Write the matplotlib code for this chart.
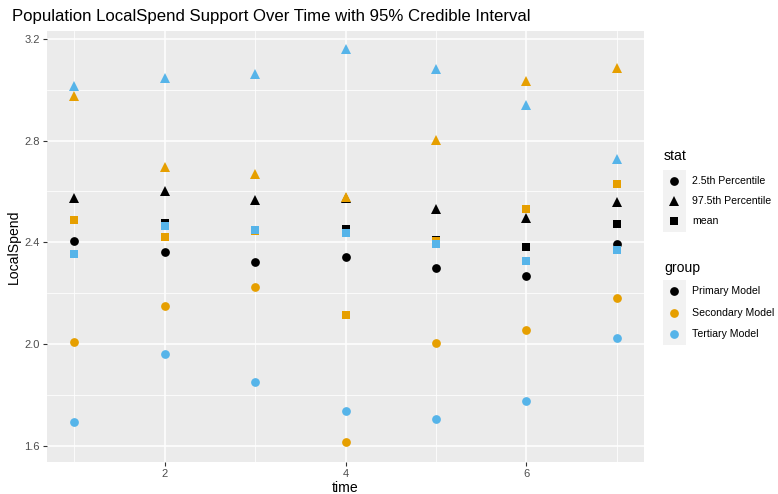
import numpy as np
import matplotlib
matplotlib.use("Agg")
import matplotlib.pyplot as plt
from matplotlib.lines import Line2D
from matplotlib.patches import Rectangle

plt.rcParams['font.family'] = ['Liberation Sans', 'DejaVu Sans']

time = [1, 2, 3, 4, 5, 6, 7]
groups = ['Primary Model', 'Secondary Model', 'Tertiary Model']
stats = ['2.5th Percentile', '97.5th Percentile', 'mean']

# values per group: lower 2.5%, upper 97.5%, mean
primary_lo = [2.406, 2.362, 2.324, 2.341, 2.298, 2.269, 2.393]
primary_hi = [2.573, 2.603, 2.567, 2.575, 2.531, 2.497, 2.559]
primary_mean = [2.486, 2.478, 2.449, 2.451, 2.411, 2.381, 2.472]

secondary_lo = [2.010, 2.151, 2.225, 1.616, 2.003, 2.054, 2.183]
secondary_hi = [2.976, 2.697, 2.669, 2.580, 2.803, 3.036, 3.085]
secondary_mean = [2.487, 2.420, 2.446, 2.113, 2.405, 2.530, 2.629]

tertiary_lo = [1.695, 1.961, 1.852, 1.737, 1.707, 1.776, 2.023]
tertiary_hi = [3.016, 3.048, 3.061, 3.159, 3.081, 2.940, 2.727]
tertiary_mean = [2.353, 2.463, 2.450, 2.436, 2.393, 2.326, 2.370]

group_colors = ['#000000', '#E69F00', '#56B4E9']
stat_markers = ['o', '^', 's']
stat_sizes = [6.3, 7.2, 6.0]

data = [
    [primary_lo, primary_hi, primary_mean],
    [secondary_lo, secondary_hi, secondary_mean],
    [tertiary_lo, tertiary_hi, tertiary_mean],
]

fig = plt.figure(figsize=(7.78, 4.94), dpi=100)
ax = fig.add_axes([47 / 778, 32.3 / 494, 597 / 778, 430.7 / 494])
ax.set_facecolor('#EBEBEB')

z = 3
for g, col in enumerate(group_colors):
    for s in range(3):
        ax.plot(time, data[g][s], linestyle='none', marker=stat_markers[s],
                markersize=stat_sizes[s], color=col, markeredgewidth=0, zorder=z)
        z += 0.01

ax.set_xlim(0.7, 7.3)
ax.set_ylim(1.5375, 3.231)
ax.set_xticks([2, 4, 6])
ax.set_yticks([1.6, 2.0, 2.4, 2.8, 3.2])
ax.set_xticks([1, 3, 5, 7], minor=True)
ax.set_yticks([1.8, 2.2, 2.6, 3.0], minor=True)
ax.grid(which='major', color='white', linewidth=1.1)
ax.grid(which='minor', color='white', linewidth=0.55)
ax.set_axisbelow(True)
for sp in ax.spines.values():
    sp.set_visible(False)
ax.tick_params(which='major', length=3, width=0.8, color='#333333',
               labelsize=8, labelcolor='#4D4D4D', pad=2)
ax.tick_params(which='minor', length=0)
ax.set_yticklabels(['1.6', '2.0', '2.4', '2.8', '3.2'])

ax.set_xlabel('time', fontsize=10.1, labelpad=1.5)
ax.set_ylabel('LocalSpend', fontsize=10.1, labelpad=3)
fig.text(12 / 778, 1 - 17 / 494, 'Population LocalSpend Support Over Time with 95% Credible Interval',
         fontsize=12.1, va='center', ha='left')

# legends drawn by hand in ggplot style
def legend_block(title, title_y, entries, key_ys, colors, markers, sizes):
    fig.text(664 / 778, 1 - title_y / 494, title, fontsize=10.1, va='center', ha='left')
    top = key_ys[0] - 10.5
    bot = key_ys[-1] + 10.5
    fig.add_artist(Rectangle((662.5 / 778, 1 - bot / 494), 23.2 / 778, (bot - top) / 494,
                             transform=fig.transFigure, facecolor='#F2F2F2', edgecolor='none'))
    for lab, yy, c, m, ms in zip(entries, key_ys, colors, markers, sizes):
        fig.add_artist(Line2D([674 / 778], [1 - yy / 494], marker=m, markersize=ms, color=c,
                              markeredgewidth=0, linestyle='none', transform=fig.transFigure))
        fig.text(692.5 / 778, 1 - yy / 494, lab, fontsize=7.6, va='center', ha='left')

legend_block('stat', 156, stats, [180.7, 201, 221.5], ['black'] * 3, stat_markers, stat_sizes)
legend_block('group', 268.3, groups, [291, 312.7, 334.3], group_colors, ['o'] * 3, [6.3] * 3)

fig.savefig('out.png', dpi=100)
